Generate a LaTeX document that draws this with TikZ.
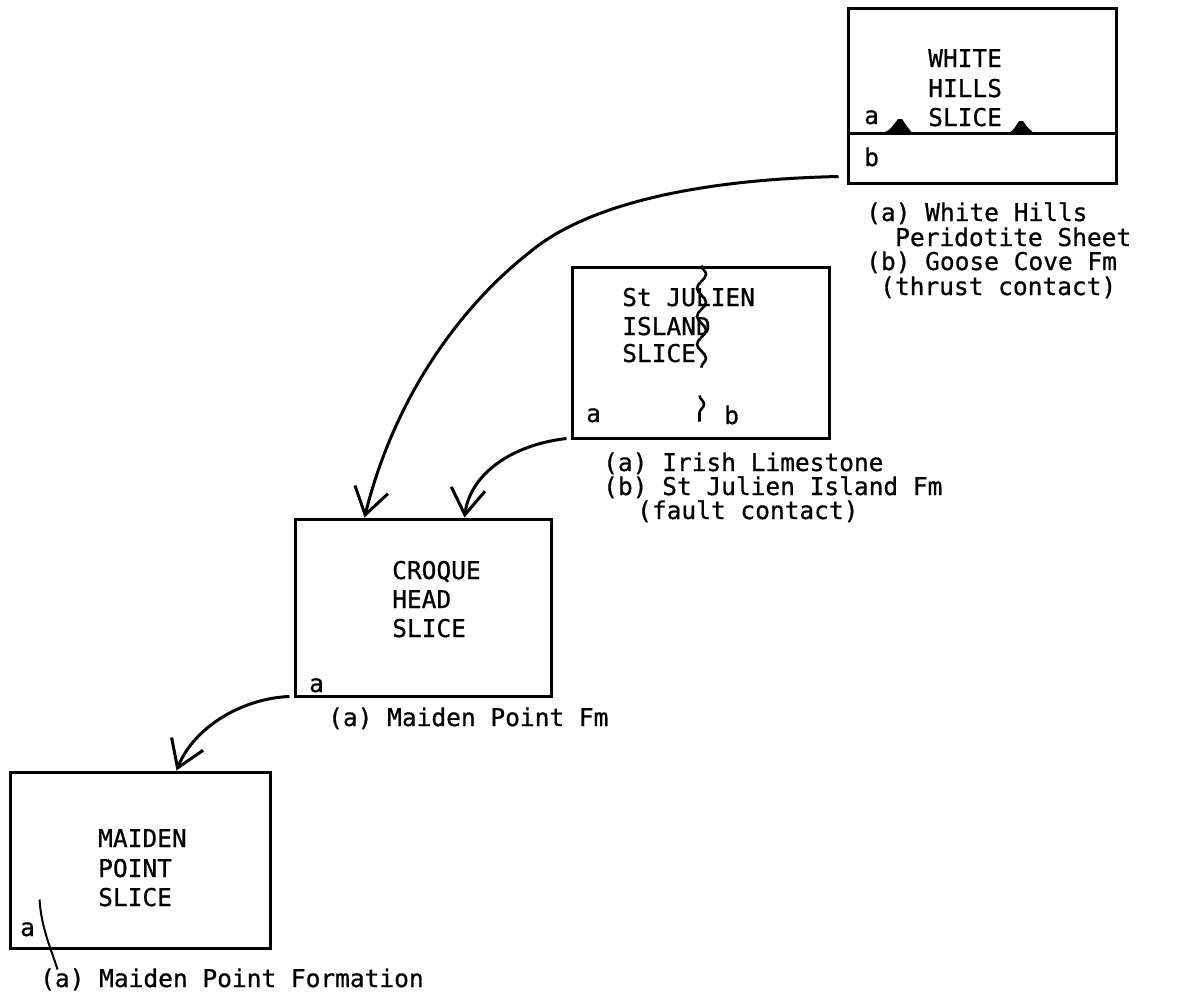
\documentclass[tikz,border=0pt]{standalone}
\usepackage{fontspec}
\newfontfamily\tw[FakeBold=0.7]{DejaVu Sans Mono}
\usetikzlibrary{arrows.meta,calc,decorations.pathmorphing}
\begin{document}
\begin{tikzpicture}[x=1pt,y=-1pt,
  slicebox/.style={draw,line width=3pt,inner sep=0pt},
  txt/.style={anchor=base west,inner sep=0pt,font=\tw\fontsize{24.5}{24}\selectfont},
  conn/.style={line width=3pt,-{Straight Barb[length=26pt,width=34pt,line width=3pt]}},
  fault/.style={line width=2.6pt,decorate,decoration={snake,segment length=28pt,amplitude=4.5pt}}]
\fill[white] (0,0) rectangle (1195,997);
\useasboundingbox (0,0) rectangle (1195,997);
% boxes
\node[slicebox,minimum width=268pt,minimum height=175pt] (wh) at (982,95.5) {};
\node[slicebox,minimum width=257pt,minimum height=171pt] (sj) at (700.5,352.5) {};
\node[slicebox,minimum width=256pt,minimum height=177pt] (ch) at (423,607.5) {};
\node[slicebox,minimum width=260pt,minimum height=176pt] (mp) at (140,860) {};
% White Hills slice
\draw[line width=2.8pt] ($(wh.west)+(0,38)$) coordinate (whd) -- (whd -| wh.east);
\fill (881,133) .. controls (889,131) .. (898,119) -- (902,119) .. controls (906,125) .. (912,133) -- cycle;
\fill (1004,134) .. controls (1012,132) .. (1019,121) -- (1023,121) .. controls (1027,127) .. (1035,134) -- cycle;
\node[txt] (wh1) at (928,67) {WHITE};
\node[txt] (wh2) at (928,97) {HILLS};
\node[txt] (wh3) at (928,126) {SLICE};
\node[txt] (wha) at (864,124) {a};
\node[txt] (whb) at (864,166) {b};
\node[txt] (whl1) at (866,221) {(a) White Hills};
\node[txt] (whl2) at (895,246) {Peridotite Sheet};
\node[txt] (whl3) at (866,270) {(b) Goose Cove Fm};
\node[txt] (whl4) at (880,295) {(thrust contact)};
% St Julien Island slice
\draw[fault] ($(sj.north west)+(131,0)$) -- ++(0,102);
\draw[fault] ($(sj.north west)+(129,130)$) -- ++(0,26);
\node[txt] (sj1) at (622,306) {St JULIEN};
\node[txt] (sj2) at (622,335) {ISLAND};
\node[txt] (sj3) at (622,362) {SLICE};
\node[txt] (sja) at (586,422) {a};
\node[txt] (sjb) at (724,424) {b};
\node[txt] (sjl1) at (603,471) {(a) Irish Limestone};
\node[txt] (sjl2) at (603,495) {(b) St Julien Island Fm};
\node[txt] (sjl3) at (637,519) {(fault contact)};
% Croque Head slice
\node[txt] (ch1) at (392,579) {CROQUE};
\node[txt] (ch2) at (392,608) {HEAD};
\node[txt] (ch3) at (392,637) {SLICE};
\node[txt] (cha) at (309,692) {a};
\node[txt] (chl1) at (328,726) {(a) Maiden Point Fm};
% Maiden Point slice
\node[txt] (mp1) at (98,847) {MAIDEN};
\node[txt] (mp2) at (98,877) {POINT};
\node[txt] (mp3) at (98,906) {SLICE};
\node[txt] (mpa) at (20,936) {a};
\node[txt] (mpl1) at (40,987) {(a) Maiden Point Formation};
\draw[line width=2pt] ($(mp.south west)+(31,-50)$) .. controls ++(2,30) and ++(-6,-20) .. ++(18,70);
% connectors
\draw[conn] ($(wh.south west)+(-8,-8)$) .. controls (680,180) and (580,210) .. (530,252)
   .. controls (462,305) and (395,395) .. ($(ch.north west)+(71,0)$);
\draw[conn] ($(sj.south west)+(-4,-1)$) .. controls (510,445) and (470,475) .. ($(ch.north west)+(171,0)$);
\draw[conn] ($(ch.south west)+(-4,-1)$) .. controls (245,698) and (195,725) .. ($(mp.north west)+(168,0)$);
\end{tikzpicture}
\end{document}
